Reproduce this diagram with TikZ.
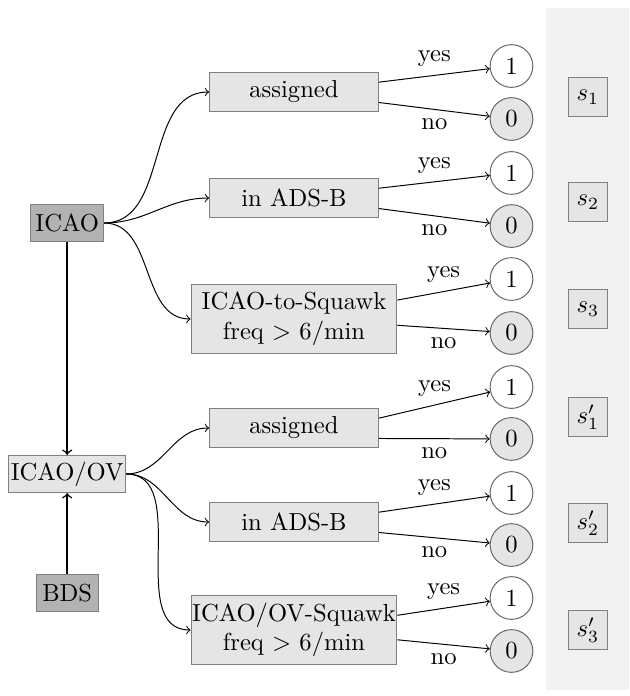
\documentclass[tikz,border=0pt]{standalone}
\usepackage{amsmath}
\usepackage{tikz}
\usetikzlibrary{arrows,shapes,positioning}
\tikzset{
    srcnode/.style={
    rectangle,draw=black!50,fill=black!30,inner sep=0pt,minimum height=0.54cm
    },
    testnode/.style={
    rectangle,draw=black!50,fill=black!10,inner sep=0pt,minimum width=2.41cm,minimum height=0.56cm,align=center
    },
    yesnode/.style={
    circle,draw=black!60,fill=white,inner sep=0pt,minimum size=0.61cm
    },
    nonode/.style={
    circle,draw=black!60,fill=black!10,inner sep=0pt,minimum size=0.61cm
    },
    scorenode/.style={
    rectangle,draw=black!50,fill=black!10,inner sep=0pt,minimum width=0.57cm,minimum height=0.56cm
    },
}
\begin{document}
\begin{tikzpicture}
   \useasboundingbox (0,0) rectangle (8.986,-9.943);
   \fill[black!5] (7.8,-0.114) rectangle (8.986,-9.857);

   %sources
   \node[srcnode,minimum width=1.04cm] (icao) at (0.96,-3.186) {ICAO};
   \node[srcnode,fill=black!10,minimum width=1.67cm,minimum height=0.53cm] (icaoov) at (0.96,-6.771) {ICAO/OV};
   \node[srcnode,minimum width=0.89cm] (bds) at (0.96,-8.471) {BDS};

   %tests ICAO
   \node[testnode] (a1) at (4.2,-1.314) {assigned};
   \node[testnode] (b1) at (4.2,-2.829) {in ADS-B};
   \node[testnode,minimum width=2.94cm,minimum height=0.99cm] (c1) at (4.2,-4.557) {ICAO-to-Squawk\\freq $>$ 6/min};

   %tests ICAO/OV
   \node[testnode] (a2) at (4.2,-6.114) {assigned};
   \node[testnode] (b2) at (4.2,-7.457) {in ADS-B};
   \node[testnode,minimum width=2.94cm,minimum height=0.99cm] (c2) at (4.2,-9.0) {ICAO/OV-Squawk\\freq $>$ 6/min};

   %outcomes
   \node[yesnode] (a1y) at (7.307,-0.943) {1};
   \node[nonode]  (a1n) at (7.307,-1.7) {0};
   \node[yesnode] (b1y) at (7.307,-2.471) {1};
   \node[nonode]  (b1n) at (7.307,-3.229) {0};
   \node[yesnode] (c1y) at (7.307,-3.986) {1};
   \node[nonode]  (c1n) at (7.307,-4.757) {0};
   \node[yesnode] (a2y) at (7.307,-5.529) {1};
   \node[nonode]  (a2n) at (7.307,-6.271) {0};
   \node[yesnode] (b2y) at (7.307,-7.043) {1};
   \node[nonode]  (b2n) at (7.307,-7.786) {0};
   \node[yesnode] (c2y) at (7.307,-8.543) {1};
   \node[nonode]  (c2n) at (7.307,-9.3) {0};

   %scores
   \node[scorenode] (s1) at (8.4,-1.386) {$s_1$};
   \node[scorenode] (s2) at (8.4,-2.886) {$s_2$};
   \node[scorenode] (s3) at (8.4,-4.414) {$s_3$};
   \node[scorenode] (s1p) at (8.4,-5.957) {$s'_1$};
   \node[scorenode] (s2p) at (8.4,-7.471) {$s'_2$};
   \node[scorenode] (s3p) at (8.4,-9.0) {$s'_3$};

  \path[->,semithick]
    (icao) edge (icaoov)
    (bds) edge (icaoov);

  \path[->]
    %ICAO branches
    (icao) edge [out=0,in=180] (a1)
           edge [out=0,in=180] (b1)
           edge [out=0,in=180] (c1)
    %ICAO/OV branches
    (icaoov) edge [out=0,in=180] (a2)
             edge [out=0,in=180] (b2)
             edge [out=0,in=180] (c2)

    %outcomes ICAO
    ([yshift=0.14cm]a1.east) edge node [above] {yes} (a1y)
    ([yshift=-0.15cm]a1.east) edge node [below] {no} (a1n)
    ([yshift=0.14cm]b1.east) edge node [above] {yes} (b1y)
    ([yshift=-0.15cm]b1.east) edge node [below] {no} (b1n)
    ([yshift=0.27cm]c1.east) edge node [above] {yes} (c1y)
    ([yshift=-0.09cm]c1.east) edge node [below] {no} (c1n)
    %outcomes ICAO/OV
    ([yshift=0.14cm]a2.east) edge node [above] {yes} (a2y)
    ([yshift=-0.15cm]a2.east) edge node [below] {no} (a2n)
    ([yshift=0.14cm]b2.east) edge node [above] {yes} (b2y)
    ([yshift=-0.15cm]b2.east) edge node [below] {no} (b2n)
    ([yshift=0.21cm]c2.east) edge node [above] {yes} (c2y)
    ([yshift=-0.14cm]c2.east) edge node [below] {no} (c2n);
  \end{tikzpicture}
\end{document}
